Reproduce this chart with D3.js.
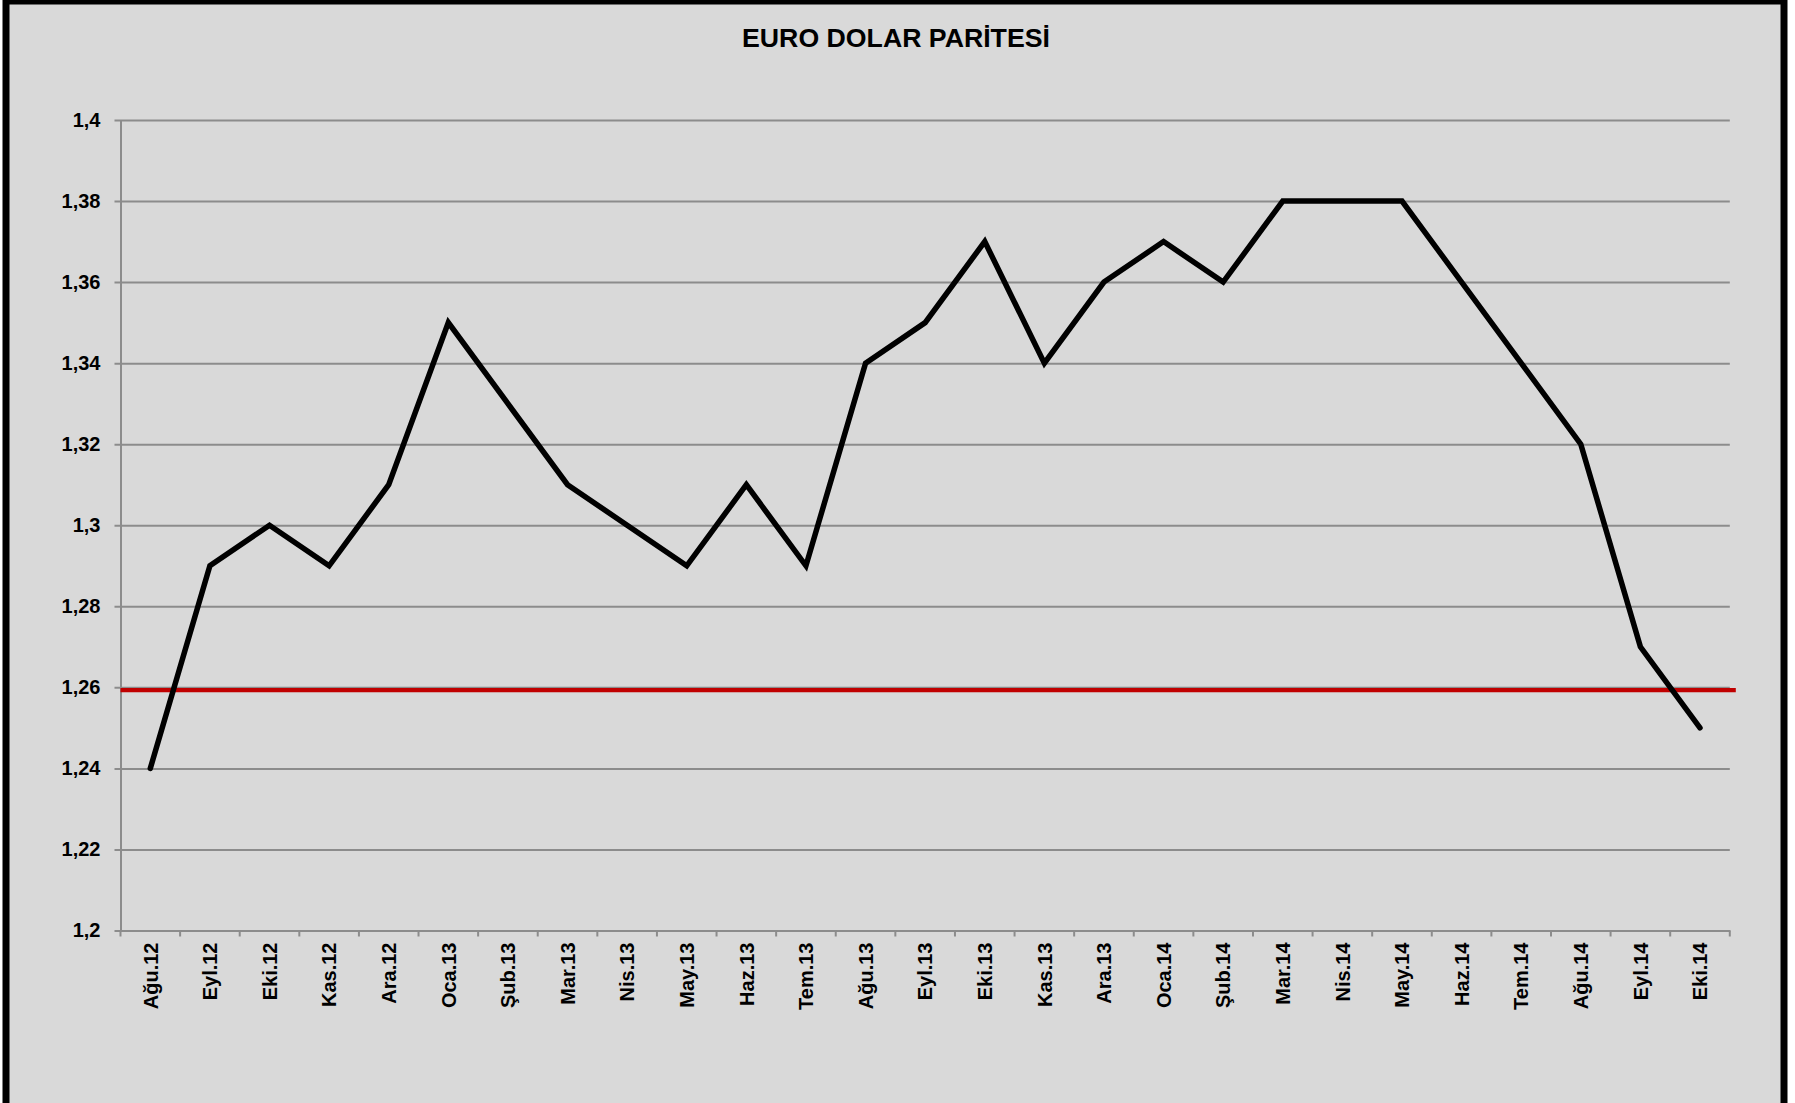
<!DOCTYPE html>
<html>
<head>
<meta charset="utf-8">
<script src="https://cdn.jsdelivr.net/npm/d3@7"></script>
<style>
  html, body { margin: 0; padding: 0; background: #ffffff; }
  svg { display: block; font-family: "Liberation Sans", Arial, sans-serif; }
</style>
</head>
<body>
<svg id="chart" width="1795" height="1103"></svg>
<script>
const title = "EURO DOLAR PARİTESİ";
const months = ["Ağu.12","Eyl.12","Eki.12","Kas.12","Ara.12","Oca.13","Şub.13","Mar.13","Nis.13","May.13","Haz.13","Tem.13","Ağu.13","Eyl.13","Eki.13","Kas.13","Ara.13","Oca.14","Şub.14","Mar.14","Nis.14","May.14","Haz.14","Tem.14","Ağu.14","Eyl.14","Eki.14"];
const rates = [1.24,1.29,1.30,1.29,1.31,1.35,1.33,1.31,1.30,1.29,1.31,1.29,1.34,1.35,1.37,1.34,1.36,1.37,1.36,1.38,1.38,1.38,1.36,1.34,1.32,1.27,1.25];
const yTicks = [1.2,1.22,1.24,1.26,1.28,1.3,1.32,1.34,1.36,1.38,1.4];
const yTickLabels = ["1,2","1,22","1,24","1,26","1,28","1,3","1,32","1,34","1,36","1,38","1,4"];
const refLevel = 1.2593;

(function () {
const svg = d3.select("#chart");

// chart area background + frame
svg.append("rect")
  .attr("x", 6).attr("y", 1)
  .attr("width", 1778).attr("height", 1120)
  .attr("fill", "#d9d9d9")
  .attr("stroke", "#000").attr("stroke-width", 7);

const pLeft = 120.5, pRight = 1729.8, pTop = 120, pBottom = 930.5;

const x = d3.scaleBand().domain(months).range([pLeft, pRight]).padding(0);
const y = d3.scaleLinear().domain([1.2, 1.4]).range([pBottom, pTop]);

// title
svg.append("text")
  .attr("x", 896).attr("y", 47)
  .attr("text-anchor", "middle")
  .attr("font-size", 26.7).attr("font-weight", "bold")
  .attr("fill", "#000")
  .text(title);

// gridlines + y axis
const yAxis = d3.axisLeft(y)
  .tickValues(yTicks)
  .tickSize(-(pRight - pLeft))
  .tickSizeOuter(0)
  .tickFormat((d, i) => yTickLabels[i]);

const gy = svg.append("g").attr("transform", `translate(${pLeft},0)`).call(yAxis);
gy.select(".domain").attr("stroke", "#8c8c8c").attr("stroke-width", 2);
gy.selectAll(".tick line")
  .attr("stroke", "#8c8c8c").attr("stroke-width", 2)
  .attr("x1", -6);
gy.selectAll(".tick text")
  .attr("x", -20)
  .attr("font-size", 20).attr("font-weight", "bold")
  .attr("font-family", "Liberation Sans, Arial, sans-serif")
  .attr("fill", "#000");

// x axis
const xAxis = d3.axisBottom(x).tickSize(0).tickSizeOuter(0);
const gx = svg.append("g").attr("transform", `translate(0,${pBottom})`).call(xAxis);
gx.select(".domain").attr("stroke", "#8c8c8c").attr("stroke-width", 2);
gx.selectAll(".tick text")
  .attr("font-size", 20).attr("font-weight", "bold")
  .attr("font-family", "Liberation Sans, Arial, sans-serif")
  .attr("fill", "#000")
  .attr("text-anchor", "end")
  .attr("transform", "rotate(-90)")
  .attr("x", -12).attr("y", 0).attr("dy", "0.36em");

// tick marks between categories
const boundaries = months.map(m => x(m)).concat([pRight]);
svg.append("g").selectAll("line")
  .data(boundaries)
  .join("line")
  .attr("x1", d => d).attr("x2", d => d)
  .attr("y1", pBottom).attr("y2", pBottom + 6)
  .attr("stroke", "#8c8c8c").attr("stroke-width", 2);

// reference level line
svg.append("line")
  .attr("x1", pLeft).attr("x2", pRight + 6)
  .attr("y1", y(refLevel)).attr("y2", y(refLevel))
  .attr("stroke", "#c00000").attr("stroke-width", 4.3);

// series line
const line = d3.line()
  .x((d, i) => x(months[i]) + x.bandwidth() / 2)
  .y(d => y(d));

svg.append("path")
  .datum(rates)
  .attr("d", line)
  .attr("fill", "none")
  .attr("stroke", "#000")
  .attr("stroke-width", 5.5)
  .attr("stroke-linecap", "round")
  .attr("stroke-linejoin", "miter");
})();
</script>
</body>
</html>
